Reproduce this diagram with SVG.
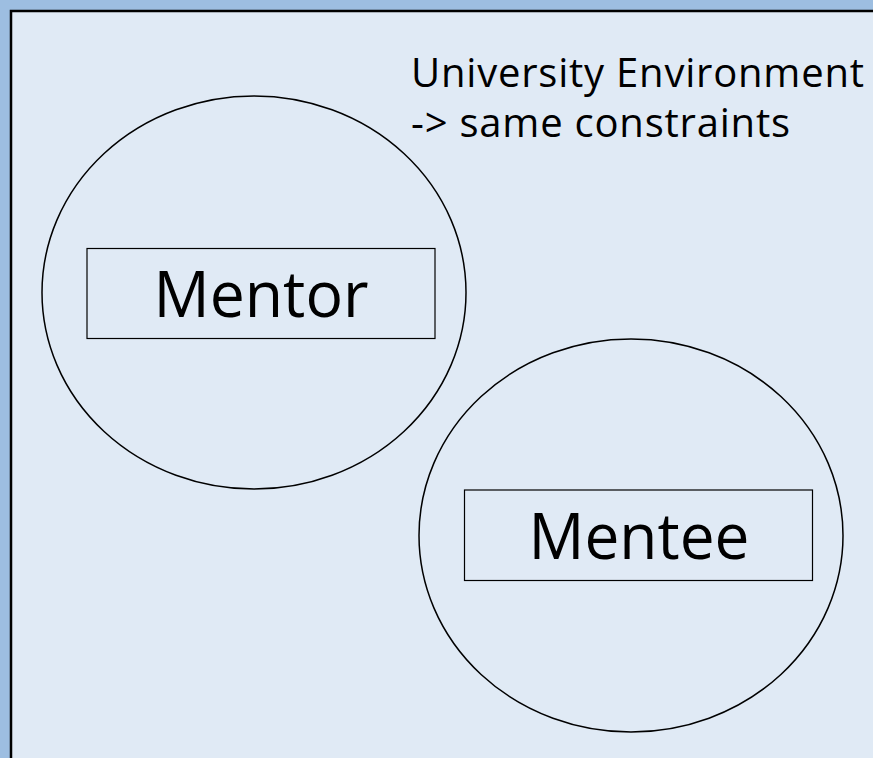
<svg xmlns="http://www.w3.org/2000/svg" width="873" height="758" viewBox="0 0 873 758">
<style>
.ring{fill:none;stroke:#000;stroke-width:1.5}
.box{fill:none;stroke:#000;stroke-width:1.2}
.big{font-family:"Comic Sans MS","Open Sans",sans-serif;font-size:64px;fill:#000;text-anchor:middle}
.note{font-family:"Comic Sans MS","Open Sans",sans-serif;font-size:40px;fill:#000}
</style>
<rect x="0" y="0" width="873" height="758" fill="#9dbee1"/>
<rect x="11" y="11" width="900" height="800" fill="#e0eaf5" stroke="#000" stroke-width="2.5"/>
<g id="environment-note">
<text class="note" x="411" y="87" textLength="453" lengthAdjust="spacing">University Environment</text>
<text class="note" x="411" y="137" textLength="379" lengthAdjust="spacing">-&gt; same constraints</text>
</g>
<g id="mentor">
<ellipse class="ring" cx="254" cy="292.5" rx="212" ry="196.5"/>
<rect class="box" x="87" y="248.5" width="348" height="90"/>
<text class="big" x="261" y="317" textLength="215" lengthAdjust="spacingAndGlyphs">Mentor</text>
</g>
<g id="mentee">
<ellipse class="ring" cx="631" cy="535.5" rx="212" ry="196.5"/>
<rect class="box" x="464.5" y="490" width="348" height="90.5"/>
<text class="big" x="639" y="559" textLength="221" lengthAdjust="spacingAndGlyphs">Mentee</text>
</g>
<g id="connectors"></g>
</svg>
